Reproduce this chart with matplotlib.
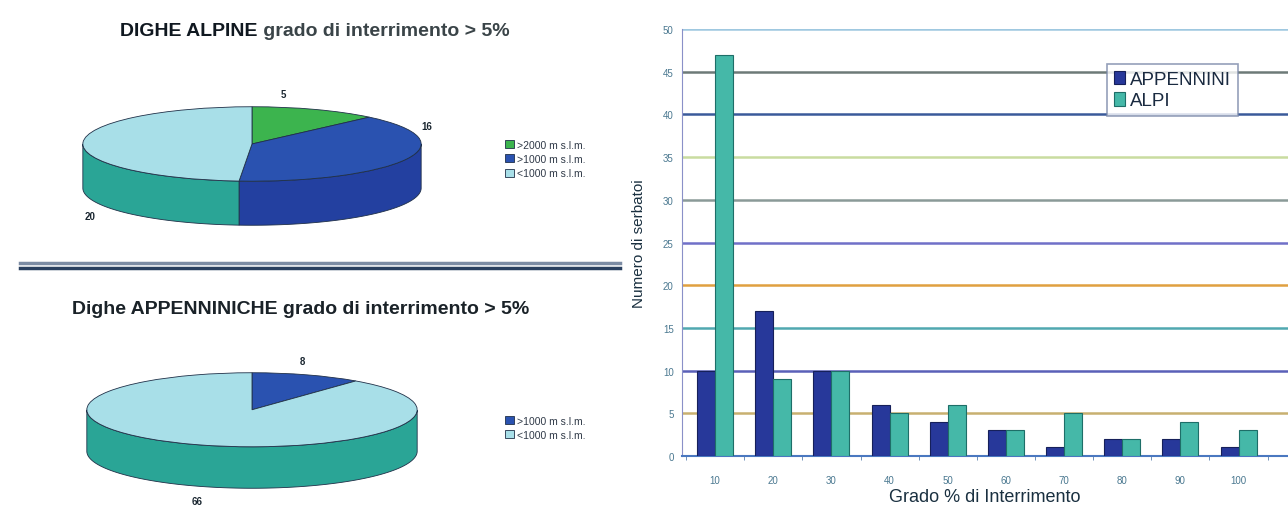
import numpy as np
import matplotlib.pyplot as plt

plt.rcParams['font.family'] = ['Liberation Sans', 'DejaVu Sans']

# Dati serbatoi per grado di interrimento
gradi = ['10', '20', '30', '40', '50', '60', '70', '80', '90', '100']
appennini = [10, 17, 10, 6, 4, 3, 1, 2, 2, 1]
alpi = [47, 9, 10, 5, 6, 3, 5, 2, 4, 3]
y_ticks = [0, 5, 10, 15, 20, 25, 30, 35, 40, 45, 50]

# Dighe alpine per quota
quote_alpine = ['>2000 m s.l.m.', '>1000 m s.l.m.', '<1000 m s.l.m.']
dighe_alpine = [5, 16, 20]

# Dighe appenniniche per quota
quote_app = ['>1000 m s.l.m.', '<1000 m s.l.m.']
dighe_app = [8, 66]

W, H = 1288, 510
fig = plt.figure(figsize=(W / 100, H / 100), dpi=100)


def px_axes(x0, y0, x1, y1):
    # rettangolo in pixel (origine in alto a sinistra)
    return fig.add_axes([x0 / W, 1 - y1 / H, (x1 - x0) / W, (y1 - y0) / H])


def torta_3d(ax, valori, col_top, col_side, depth):
    wedges, _ = ax.pie(valori, colors=col_top, startangle=90, counterclock=False,
                       radius=1, center=(0, 0),
                       wedgeprops=dict(edgecolor='#203048', linewidth=0.6))
    for w in wedges:
        w.set_zorder(3)
    # fianco visibile (metà anteriore dell'ellisse)
    for w, c in zip(wedges, col_side):
        th = np.radians(np.linspace(w.theta1, w.theta2, 600))
        front = np.sin(th) < 0
        if not front.any():
            continue
        idx = np.where(front)[0]
        runs = np.split(idx, np.where(np.diff(idx) > 1)[0] + 1)
        for r in runs:
            t = th[r]
            xs = np.concatenate([np.cos(t), np.cos(t[::-1])])
            ys = np.concatenate([np.sin(t), np.sin(t[::-1]) - depth])
            ax.fill(xs, ys, facecolor=c, edgecolor='#203048', linewidth=0.6, zorder=2)
    ax.set_aspect('auto')
    ax.set_xlim(-1.005, 1.005)
    ax.set_ylim(-1 - depth - 0.02, 1.02)
    ax.axis('off')
    return wedges


verde, blu, ciano = '#3cb44e', '#2a52b0', '#a8dfe8'
verde_s, blu_s, ciano_s = '#2a8a3a', '#2340a0', '#2aa596'
leg_kw = dict(loc='center left', frameon=False, fontsize=7.5, handlelength=0.8,
              handleheight=0.8, handletextpad=0.3, labelspacing=0.4,
              labelcolor='#303a48')

# --- torta dighe alpine ---
ax1 = px_axes(82, 107, 422, 227)
w1 = torta_3d(ax1, dighe_alpine, [verde, blu, ciano], [verde_s, blu_s, ciano_s], 45 / 38)
for lab, (x, y) in zip(dighe_alpine, [(283, 95), (427, 127), (90, 217)]):
    fig.text(x / W, 1 - y / H, str(lab), fontsize=7, fontweight='bold',
             color='#1a2630', ha='center', va='center')
fig.legend(w1, quote_alpine, bbox_to_anchor=(496 / W, 1 - 160 / H), **leg_kw)

# --- torta dighe appenniniche ---
ax2 = px_axes(86, 373, 418, 490)
w2 = torta_3d(ax2, dighe_app, [blu, ciano], [blu_s, ciano_s], 42 / 37.5)
for lab, (x, y) in zip(dighe_app, [(302, 362), (197, 502)]):
    fig.text(x / W, 1 - y / H, str(lab), fontsize=7, fontweight='bold',
             color='#1a2630', ha='center', va='center')
fig.legend(w2, quote_app, bbox_to_anchor=(496 / W, 1 - 429 / H), **leg_kw)

# titoli delle torte
t1 = fig.text(120 / W, 1 - 32 / H, 'DIGHE ALPINE', fontsize=14, fontweight='bold',
              color='#101820', va='center')
ax1.annotate(' grado di interrimento > 5%', xy=(1, 0.5), xycoords=t1, va='center',
             fontsize=14, fontweight='bold', color='#3a4448', annotation_clip=False)
fig.text(72 / W, 1 - 310 / H, 'Dighe APPENNINICHE grado di interrimento > 5%',
         fontsize=14, fontweight='bold', color='#1a2228', va='center')

# doppia linea di separazione
sep = fig.add_axes([0, 0, 1, 1], facecolor='none')
sep.set_xlim(0, W)
sep.set_ylim(H, 0)
sep.axis('off')
sep.plot([20, 620], [264, 264], color='#7c8ca4', lw=2.5)
sep.plot([20, 620], [268.5, 268.5], color='#2a4060', lw=2.5)

# --- istogramma ---
ax = px_axes(682, 30, 1288, 457)
x = np.arange(len(gradi))
bw = 0.31
ax.bar(x - bw / 2, appennini, bw, color='#27389a', edgecolor='#16205a',
       linewidth=0.8, label='APPENNINI', zorder=3)
ax.bar(x + bw / 2, alpi, bw, color='#45b8a8', edgecolor='#1e6e68',
       linewidth=0.8, label='ALPI', zorder=3)

grid_col = ['#4a78c0', '#c8b070', '#5a60b8', '#50a8b0', '#e0a040', '#7070c8',
            '#8a9a98', '#c9dca0', '#3a5a9a', '#6d7a78', '#9fc8e0']
for v, c in zip(y_ticks[1:], grid_col[1:]):
    ax.axhline(v, color=c, lw=1.8, zorder=1)

ax.set_xlim(-0.57, 9.85)
ax.set_ylim(0, 50)
ax.set_yticks(y_ticks)
ax.set_xticks(x)
ax.set_xticklabels(gradi)
ax.tick_params(axis='both', labelsize=7, labelcolor='#4a7890', length=0, pad=6)
ax.tick_params(axis='x', pad=14)
ax.set_xticks(np.arange(len(gradi) + 1) - 0.5, minor=True)
ax.tick_params(axis='x', which='minor', length=3, color='#5a80b0', direction='out')
for s in ['top', 'right']:
    ax.spines[s].set_visible(False)
ax.spines['left'].set_color('#8a90c8')
ax.spines['bottom'].set_color('#4a78c0')
ax.spines['bottom'].set_linewidth(1.5)
ax.set_facecolor('none')

ax.set_ylabel('Numero di serbatoi', fontsize=11, color='#1a3040', labelpad=12)
ax.set_xlabel('Grado % di Interrimento', fontsize=13, color='#1a3040', labelpad=2)

leg = ax.legend(loc='upper left', bbox_to_anchor=(1107 / W, 1 - 65 / H),
                bbox_transform=fig.transFigure, borderaxespad=0, fontsize=13.5,
                frameon=True, fancybox=False, handlelength=0.6, handleheight=0.7,
                handletextpad=0.3, borderpad=0.35, labelspacing=0.25,
                labelcolor='#1a2a40')
leg.get_frame().set_edgecolor('#7a88a8')
leg.get_frame().set_linewidth(1.2)

fig.savefig('out.png', dpi=100, facecolor='white')
